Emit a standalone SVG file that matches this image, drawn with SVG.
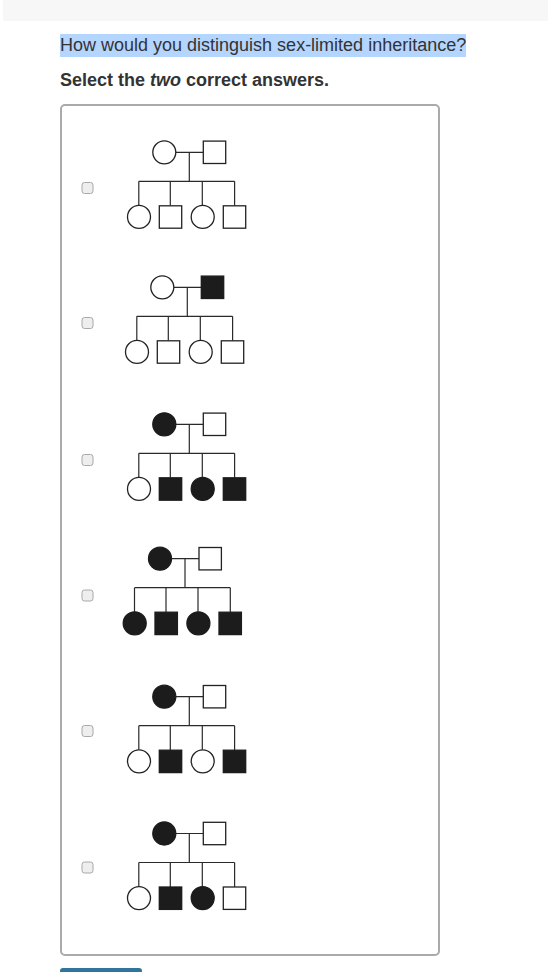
<svg xmlns="http://www.w3.org/2000/svg" width="548" height="972" viewBox="0 0 548 972">
<style>
  .txt{font-family:"Liberation Sans",Arial,Helvetica,sans-serif;font-size:18px;fill:#333}
  .b{font-weight:bold}
  .o{fill:#fff;stroke:#222;stroke-width:1.3}
  .f{fill:#1c1c1c;stroke:#1c1c1c;stroke-width:1.3}
  .ln{fill:none;stroke:#2a2a2a;stroke-width:1.2}
  .cb{fill:#eeeeee;stroke:#a8a8a8;stroke-width:1}
</style>
<defs>
  <path id="lines" d="M11.5 0H39M25 0V29M-25.5 29H70.3M-25.5 29V53M6 29V53.5M38 29V53M70.3 29V53.5"/>
</defs>
<rect x="3" y="0" width="545" height="21" fill="#f7f7f7"/>
<rect x="60" y="34" width="406" height="23" fill="#b4d5fe"/>
<text class="txt" x="60" y="51">How would you distinguish sex-limited inheritance?</text>
<text class="txt b" x="60" y="86">Select the <tspan font-style="italic">two</tspan> correct answers.</text>
<rect x="61" y="105" width="378" height="850" rx="4" fill="#fff" stroke="#aaa" stroke-width="2"/>
<rect x="60" y="968" width="82" height="10" rx="3" fill="#30759b"/>
<g id="checkboxes">
  <rect class="cb" x="82" y="182.5" width="11" height="11" rx="2.5"/>
  <rect class="cb" x="82" y="317.5" width="11" height="11" rx="2.5"/>
  <rect class="cb" x="82" y="454.5" width="11" height="11" rx="2.5"/>
  <rect class="cb" x="82" y="590" width="11" height="11" rx="2.5"/>
  <rect class="cb" x="82" y="725.5" width="11" height="11" rx="2.5"/>
  <rect class="cb" x="82" y="862" width="11" height="11" rx="2.5"/>
</g>
<g id="connectors" class="ln">
  <use href="#lines" transform="translate(164.3,152.3)"/>
  <use href="#lines" transform="translate(162.3,287.3)"/>
  <use href="#lines" transform="translate(164.3,424.3)"/>
  <use href="#lines" transform="translate(160,558.7)"/>
  <use href="#lines" transform="translate(164.3,696.7)"/>
  <use href="#lines" transform="translate(164.3,833.5)"/>
</g>
<g id="pedigree1" transform="translate(164.3,152.3)">
  <g id="p1-mother"><circle class="o" cx="0" cy="0" r="11.5"/></g>
  <g id="p1-father"><rect class="o" x="39" y="-11.2" width="22.4" height="22.4"/></g>
  <g id="p1-c1"><circle class="o" cx="-25.3" cy="64.6" r="11.5"/></g>
  <g id="p1-c2"><rect class="o" x="-5" y="53.5" width="22.4" height="22.4"/></g>
  <g id="p1-c3"><circle class="o" cx="38.4" cy="64.6" r="11.5"/></g>
  <g id="p1-c4"><rect class="o" x="59" y="53.5" width="22.4" height="22.4"/></g>
</g>
<g id="pedigree2" transform="translate(162.3,287.3)">
  <g id="p2-mother"><circle class="o" cx="0" cy="0" r="11.5"/></g>
  <g id="p2-father"><rect class="f" x="39" y="-11.2" width="22.4" height="22.4"/></g>
  <g id="p2-c1"><circle class="o" cx="-25.3" cy="64.6" r="11.5"/></g>
  <g id="p2-c2"><rect class="o" x="-5" y="53.5" width="22.4" height="22.4"/></g>
  <g id="p2-c3"><circle class="o" cx="38.4" cy="64.6" r="11.5"/></g>
  <g id="p2-c4"><rect class="o" x="59" y="53.5" width="22.4" height="22.4"/></g>
</g>
<g id="pedigree3" transform="translate(164.3,424.3)">
  <g id="p3-mother"><circle class="f" cx="0" cy="0" r="11.5"/></g>
  <g id="p3-father"><rect class="o" x="39" y="-11.2" width="22.4" height="22.4"/></g>
  <g id="p3-c1"><circle class="o" cx="-25.3" cy="64.6" r="11.5"/></g>
  <g id="p3-c2"><rect class="f" x="-5" y="53.5" width="22.4" height="22.4"/></g>
  <g id="p3-c3"><circle class="f" cx="38.4" cy="64.6" r="11.5"/></g>
  <g id="p3-c4"><rect class="f" x="59" y="53.5" width="22.4" height="22.4"/></g>
</g>
<g id="pedigree4" transform="translate(160,558.7)">
  <g id="p4-mother"><circle class="f" cx="0" cy="0" r="11.5"/></g>
  <g id="p4-father"><rect class="o" x="39" y="-11.2" width="22.4" height="22.4"/></g>
  <g id="p4-c1"><circle class="f" cx="-25.3" cy="64.6" r="11.5"/></g>
  <g id="p4-c2"><rect class="f" x="-5" y="53.5" width="22.4" height="22.4"/></g>
  <g id="p4-c3"><circle class="f" cx="38.4" cy="64.6" r="11.5"/></g>
  <g id="p4-c4"><rect class="f" x="59" y="53.5" width="22.4" height="22.4"/></g>
</g>
<g id="pedigree5" transform="translate(164.3,696.7)">
  <g id="p5-mother"><circle class="f" cx="0" cy="0" r="11.5"/></g>
  <g id="p5-father"><rect class="o" x="39" y="-11.2" width="22.4" height="22.4"/></g>
  <g id="p5-c1"><circle class="o" cx="-25.3" cy="64.6" r="11.5"/></g>
  <g id="p5-c2"><rect class="f" x="-5" y="53.5" width="22.4" height="22.4"/></g>
  <g id="p5-c3"><circle class="o" cx="38.4" cy="64.6" r="11.5"/></g>
  <g id="p5-c4"><rect class="f" x="59" y="53.5" width="22.4" height="22.4"/></g>
</g>
<g id="pedigree6" transform="translate(164.3,833.5)">
  <g id="p6-mother"><circle class="f" cx="0" cy="0" r="11.5"/></g>
  <g id="p6-father"><rect class="o" x="39" y="-11.2" width="22.4" height="22.4"/></g>
  <g id="p6-c1"><circle class="o" cx="-25.3" cy="64.6" r="11.5"/></g>
  <g id="p6-c2"><rect class="f" x="-5" y="53.5" width="22.4" height="22.4"/></g>
  <g id="p6-c3"><circle class="f" cx="38.4" cy="64.6" r="11.5"/></g>
  <g id="p6-c4"><rect class="o" x="59" y="53.5" width="22.4" height="22.4"/></g>
</g>
</svg>
